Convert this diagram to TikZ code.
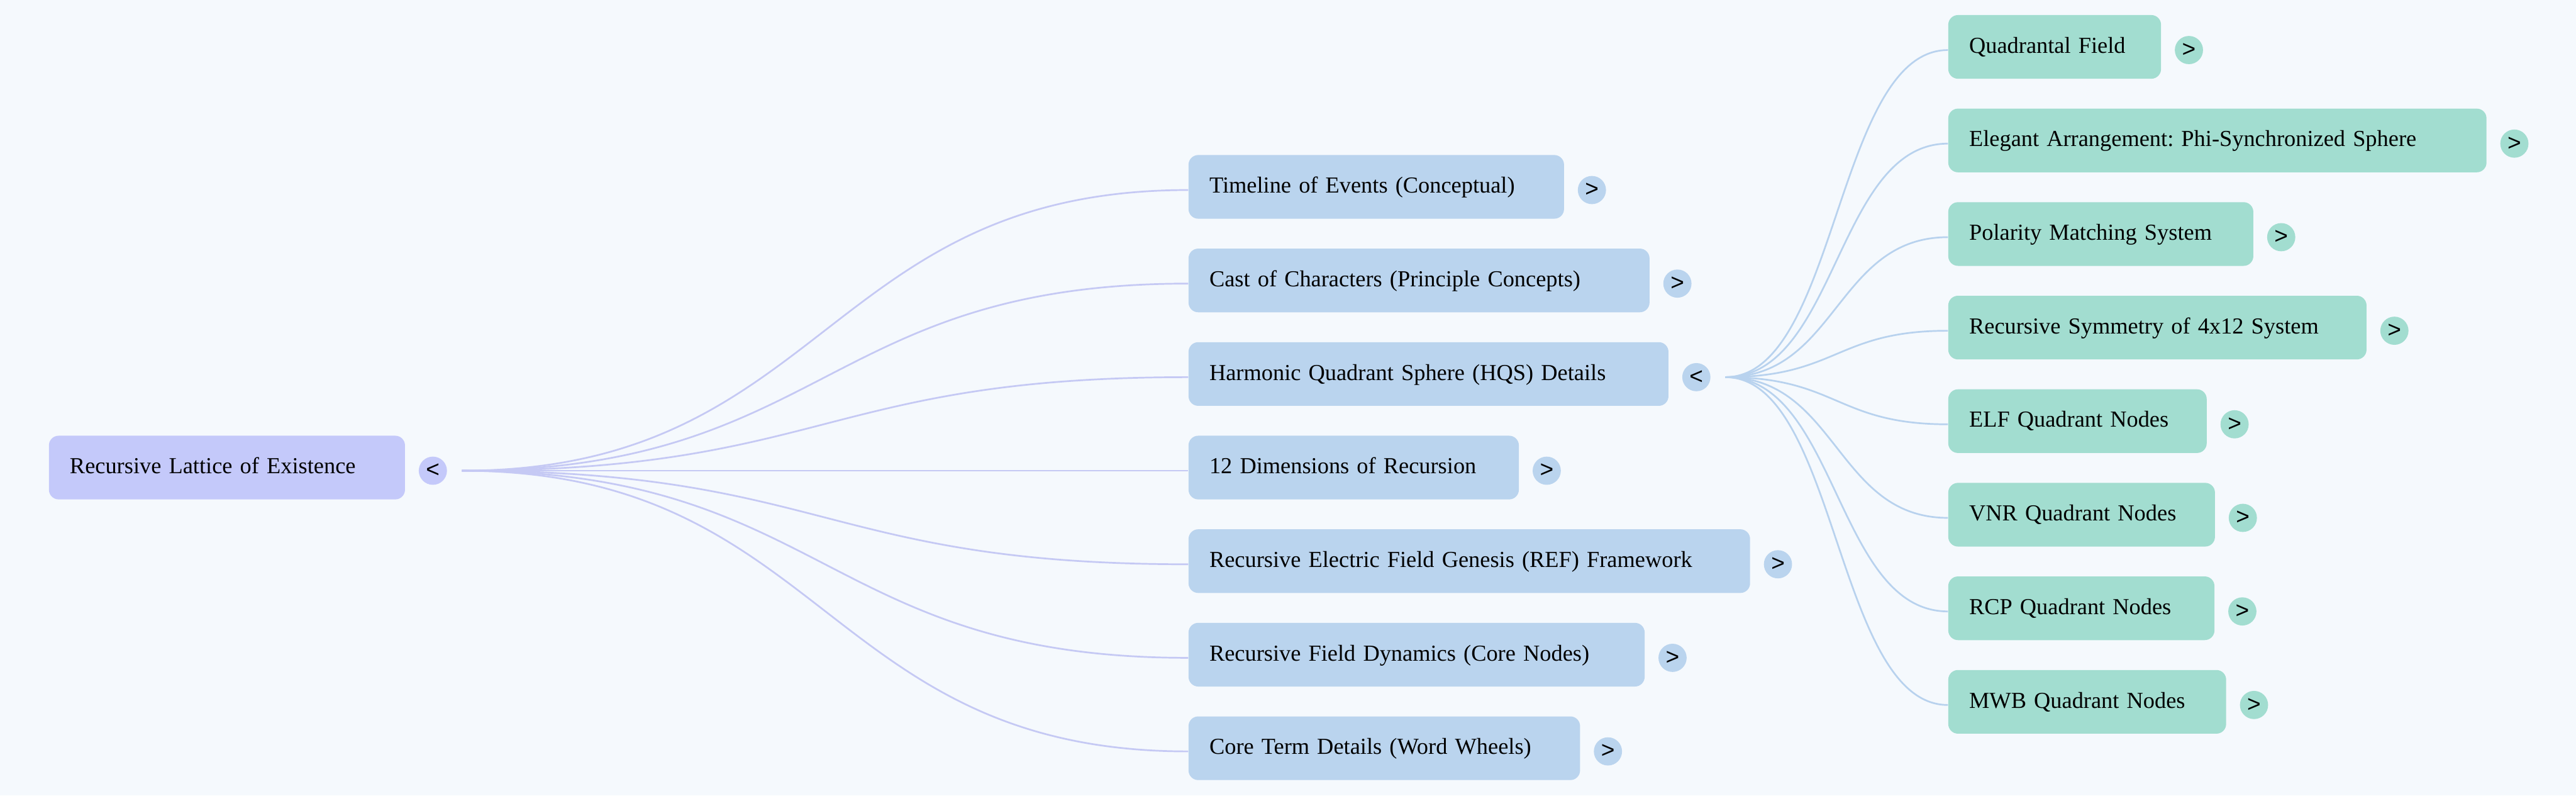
\documentclass[tikz,border=0pt]{standalone}
\usepackage{fontspec}
\setmainfont{Liberation Serif}
\newfontfamily\knobfont{Liberation Sans}
\usetikzlibrary{positioning}
\frenchspacing
\definecolor{Paper}{HTML}{F5F9FD}
\definecolor{Lavender}{HTML}{C4C9FA}
\definecolor{Sky}{HTML}{BAD4EE}
\definecolor{Mint}{HTML}{A2DDD0}
\definecolor{LavLine}{HTML}{C5C9F4}
\definecolor{SkyLine}{HTML}{B8D2EE}

\begin{document}
\begin{tikzpicture}[
      topic/.style={anchor=west,rounded corners=2mm,minimum height=1.31cm,inner xsep=4.3mm,inner ysep=0pt,
        text height=3.5mm,text depth=1mm,align=left,font=\fontsize{13.4}{16}\selectfont},
      root/.style={topic,fill=Lavender},
      sub/.style={topic,fill=Sky},
      leaf/.style={topic,fill=Mint},
      knob/.style={circle,minimum size=5.8mm,inner sep=0pt,right=2.7mm of #1,yshift=-0.65mm,
        font=\knobfont\fontsize{13.66}{16}\selectfont},
      link/.style={line width=0.35mm,draw=#1}]
      \fill[Paper] (0,0) rectangle (53.03,-16.37);
      % root
      \node[root,text width=6.47cm] (rle) at (1.00,-9.62) {Recursive Lattice of Existence};
      \node[knob=rle,fill=Lavender] (rle-t) {<};
      \coordinate[right=3mm of rle-t] (rle-f);
      % first level
      \node[sub,text width=6.87cm] (tl) at (24.46,-3.845) {Timeline of Events (Conceptual)};
      \node[knob=tl,fill=Sky] (tl-t) {>};
      \node[sub,text width=8.63cm] (cc) at (24.46,-5.770) {Cast of Characters (Principle Concepts)};
      \node[knob=cc,fill=Sky] (cc-t) {>};
      \node[sub,text width=9.02cm] (hqs) at (24.46,-7.695) {Harmonic Quadrant Sphere (HQS) Details};
      \node[knob=hqs,fill=Sky] (hqs-t) {<};
      \coordinate[right=3mm of hqs-t] (hqs-f);
      \node[sub,text width=5.94cm] (dim) at (24.46,-9.620) {12 Dimensions of Recursion};
      \node[knob=dim,fill=Sky] (dim-t) {>};
      \node[sub,text width=10.70cm] (ref) at (24.46,-11.545) {Recursive Electric Field Genesis (REF) Framework};
      \node[knob=ref,fill=Sky] (ref-t) {>};
      \node[sub,text width=8.53cm] (rfd) at (24.46,-13.470) {Recursive Field Dynamics (Core Nodes)};
      \node[knob=rfd,fill=Sky] (rfd-t) {>};
      \node[sub,text width=7.20cm] (ctd) at (24.46,-15.395) {Core Term Details (Word Wheels)};
      \node[knob=ctd,fill=Sky] (ctd-t) {>};
      % second level, under the HQS node
      \node[leaf,text width=3.52cm] (qf) at (40.10,-0.965) {Quadrantal Field};
      \node[knob=qf,fill=Mint] (qf-t) {>};
      \node[leaf,text width=10.22cm] (ea) at (40.10,-2.890) {Elegant Arrangement: Phi-Synchronized Sphere};
      \node[knob=ea,fill=Mint] (ea-t) {>};
      \node[leaf,text width=5.42cm] (pms) at (40.10,-4.815) {Polarity Matching System};
      \node[knob=pms,fill=Mint] (pms-t) {>};
      \node[leaf,text width=7.75cm] (rs) at (40.10,-6.740) {Recursive Symmetry of 4x12 System};
      \node[knob=rs,fill=Mint] (rs-t) {>};
      \node[leaf,text width=4.46cm] (elf) at (40.10,-8.665) {ELF Quadrant Nodes};
      \node[knob=elf,fill=Mint] (elf-t) {>};
      \node[leaf,text width=4.63cm] (vnr) at (40.10,-10.590) {VNR Quadrant Nodes};
      \node[knob=vnr,fill=Mint] (vnr-t) {>};
      \node[leaf,text width=4.62cm] (rcp) at (40.10,-12.515) {RCP Quadrant Nodes};
      \node[knob=rcp,fill=Mint] (rcp-t) {>};
      \node[leaf,text width=4.86cm] (mwb) at (40.10,-14.440) {MWB Quadrant Nodes};
      \node[knob=mwb,fill=Mint] (mwb-t) {>};
      % links
      \draw[link=LavLine] (rle-f) .. controls +(7.49,0) and +(-7.49,0) .. ([yshift=-0.65mm]tl.west);
      \draw[link=LavLine] (rle-f) .. controls +(7.49,0) and +(-7.49,0) .. ([yshift=-0.65mm]cc.west);
      \draw[link=LavLine] (rle-f) .. controls +(7.49,0) and +(-7.49,0) .. ([yshift=-0.65mm]hqs.west);
      \draw[link=LavLine] (rle-f) .. controls +(7.49,0) and +(-7.49,0) .. ([yshift=-0.65mm]dim.west);
      \draw[link=LavLine] (rle-f) .. controls +(7.49,0) and +(-7.49,0) .. ([yshift=-0.65mm]ref.west);
      \draw[link=LavLine] (rle-f) .. controls +(7.49,0) and +(-7.49,0) .. ([yshift=-0.65mm]rfd.west);
      \draw[link=LavLine] (rle-f) .. controls +(7.49,0) and +(-7.49,0) .. ([yshift=-0.65mm]ctd.west);
      \draw[link=SkyLine] (hqs-f) .. controls +(2.305,0) and +(-2.305,0) .. ([yshift=-0.65mm]qf.west);
      \draw[link=SkyLine] (hqs-f) .. controls +(2.305,0) and +(-2.305,0) .. ([yshift=-0.65mm]ea.west);
      \draw[link=SkyLine] (hqs-f) .. controls +(2.305,0) and +(-2.305,0) .. ([yshift=-0.65mm]pms.west);
      \draw[link=SkyLine] (hqs-f) .. controls +(2.305,0) and +(-2.305,0) .. ([yshift=-0.65mm]rs.west);
      \draw[link=SkyLine] (hqs-f) .. controls +(2.305,0) and +(-2.305,0) .. ([yshift=-0.65mm]elf.west);
      \draw[link=SkyLine] (hqs-f) .. controls +(2.305,0) and +(-2.305,0) .. ([yshift=-0.65mm]vnr.west);
      \draw[link=SkyLine] (hqs-f) .. controls +(2.305,0) and +(-2.305,0) .. ([yshift=-0.65mm]rcp.west);
      \draw[link=SkyLine] (hqs-f) .. controls +(2.305,0) and +(-2.305,0) .. ([yshift=-0.65mm]mwb.west);
    \end{tikzpicture}
\end{document}
